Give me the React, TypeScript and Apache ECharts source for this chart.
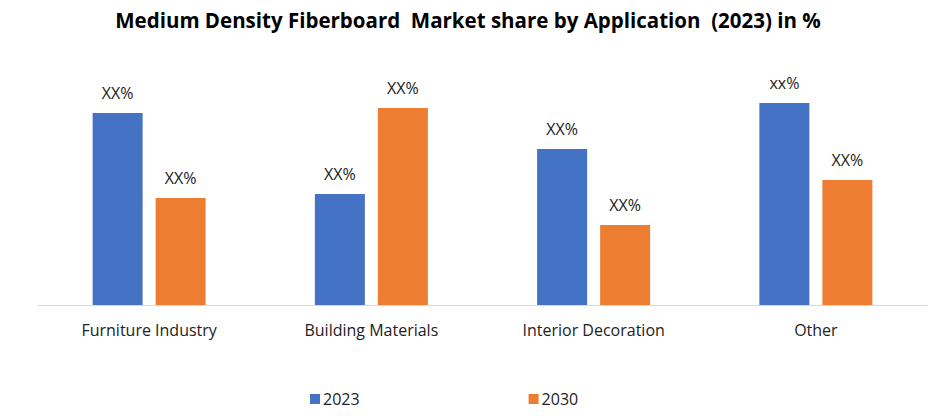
import React, { useEffect, useRef } from "react";
import * as echarts from "echarts";

const categories = ["Furniture Industry", "Building Materials", "Interior Decoration", "Other"];
const values2023 = [192, 111, 156, 202];
const values2030 = [107, 197, 80, 125];
const labels2023 = ["XX%", "XX%", "XX%", "xx%"];
const labels2030 = ["XX%", "XX%", "XX%", "XX%"];
const seriesNames = ["2023", "2030"];
const titleText = "Medium Density Fiberboard  Market share by Application  (2023) in %";

const FONT = "'Open Sans', 'Noto Sans', sans-serif";

export default function App() {
  const ref = useRef<HTMLDivElement>(null);
  useEffect(() => {
    document.body.style.margin = "0";
    if (!ref.current) return;
    const chart = echarts.init(ref.current, null, { renderer: "svg" });
    chart.setOption({
      animation: false,
      title: {
        text: titleText,
        left: "center",
        top: 4,
        textStyle: { fontFamily: FONT, fontWeight: "bold", fontSize: 20.5, color: "#000" },
      },
      legend: {
        data: seriesNames,
        left: 305,
        top: 386,
        itemWidth: 10,
        itemHeight: 10,
        itemGap: 169,
        icon: "rect",
        textStyle: { fontFamily: FONT, fontSize: 16, color: "#222", padding: [0, 0, 0, -2] },
      },
      grid: { left: 38, right: 9, top: 55, bottom: 111, containLabel: false },
      xAxis: {
        type: "category",
        data: categories,
        axisLine: { lineStyle: { color: "#D9D9D9", width: 1 } },
        axisTick: { show: false },
        axisLabel: { fontFamily: FONT, fontSize: 16, color: "#222", margin: 17 },
      },
      yAxis: {
        type: "value",
        min: 0,
        max: 250,
        show: false,
        splitLine: { show: false },
      },
      series: [
        {
          name: seriesNames[0],
          type: "bar",
          data: values2023,
          barWidth: 50,
          barGap: "26%",
          itemStyle: { color: "#4472C4" },
          label: {
            show: true,
            position: "top",
            distance: 12,
            fontFamily: FONT,
            fontSize: 16,
            color: "#222",
            formatter: (p: any) => labels2023[p.dataIndex],
          },
        },
        {
          name: seriesNames[1],
          type: "bar",
          data: values2030,
          barWidth: 50,
          barGap: "26%",
          itemStyle: { color: "#ED7D31" },
          label: {
            show: true,
            position: "top",
            distance: 12,
            fontFamily: FONT,
            fontSize: 16,
            color: "#222",
            formatter: (p: any) => labels2030[p.dataIndex],
          },
        },
      ],
    });
    return () => chart.dispose();
  }, []);
  return <div ref={ref} style={{ width: 936, height: 416 }} />;
}
